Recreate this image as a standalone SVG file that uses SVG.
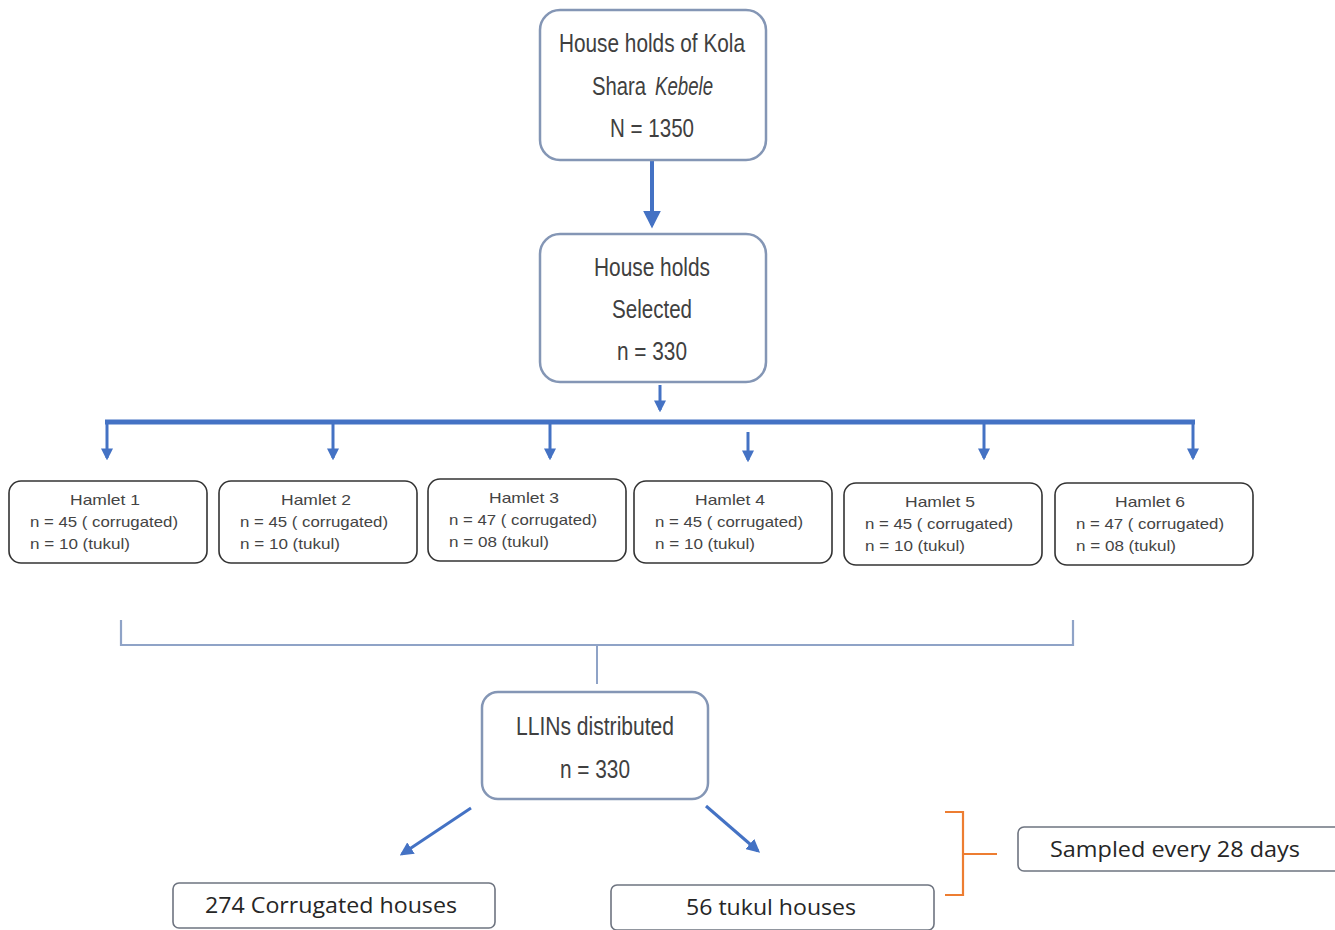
<svg xmlns="http://www.w3.org/2000/svg" width="1335" height="930" viewBox="0 0 1335 930">
<defs>
<marker id="ah" viewBox="0 0 10 10" refX="8" refY="5" markerWidth="4.5" markerHeight="4.5" orient="auto" markerUnits="strokeWidth">
<path d="M0,0 L10,5 L0,10 z" fill="#4472C4"/>
</marker>
<marker id="ahs" viewBox="0 0 10 10" refX="8" refY="5" markerWidth="4" markerHeight="4" orient="auto" markerUnits="strokeWidth">
<path d="M0,0 L10,5 L0,10 z" fill="#4472C4"/>
</marker>
</defs>
<style>
.big{fill:#fff;stroke:#8496b5;stroke-width:2.5}
.ham{fill:#fff;stroke:#333;stroke-width:1.6}
.out{fill:#fff;stroke:#6e7480;stroke-width:1.6}
.t1{font-family:"Liberation Sans",Arial,sans-serif;font-size:25px;fill:#404040;text-anchor:middle}
.th{font-family:"Liberation Sans",Arial,sans-serif;font-size:15px;fill:#444}
.tc{text-anchor:middle}
.to{font-family:"Open Sans","Liberation Sans",sans-serif;font-size:22px;fill:#262626}
.conn{stroke:#4472C4;fill:none}
</style>
<rect width="1335" height="930" fill="#fff"/>
<g id="connectors">
<line class="conn" x1="652" y1="160" x2="652" y2="225" stroke-width="4" marker-end="url(#ah)"/>
<line class="conn" x1="660" y1="385" x2="660" y2="410" stroke-width="3" marker-end="url(#ahs)"/>
<line class="conn" x1="105" y1="422" x2="1195" y2="422" stroke-width="5"/>
<line class="conn" x1="107" y1="420" x2="107" y2="458" stroke-width="3" marker-end="url(#ahs)"/>
<line class="conn" x1="333" y1="420" x2="333" y2="458" stroke-width="3" marker-end="url(#ahs)"/>
<line class="conn" x1="550" y1="420" x2="550" y2="458" stroke-width="3" marker-end="url(#ahs)"/>
<line class="conn" x1="748" y1="432" x2="748" y2="460" stroke-width="3" marker-end="url(#ahs)"/>
<line class="conn" x1="984" y1="420" x2="984" y2="458" stroke-width="3" marker-end="url(#ahs)"/>
<line class="conn" x1="1193" y1="420" x2="1193" y2="458" stroke-width="3" marker-end="url(#ahs)"/>
<path d="M121,620 V645 H1073 V620" fill="none" stroke="#8fa3c7" stroke-width="2.2"/>
<line x1="597" y1="645" x2="597" y2="684" stroke="#8fa3c7" stroke-width="2"/>
<line class="conn" x1="471" y1="808" x2="402" y2="854" stroke-width="3" marker-end="url(#ah)"/>
<line class="conn" x1="706" y1="806" x2="758" y2="851" stroke-width="3" marker-end="url(#ah)"/>
<path d="M945,812 H963 V895 H945 M963,854 H997" fill="none" stroke="#ED7D31" stroke-width="2.2"/>
</g>
<g id="n-top">
<rect class="big" x="540" y="10" width="226" height="150" rx="20"/>
<text class="t1" x="652" y="52" textLength="186" lengthAdjust="spacingAndGlyphs">House holds of Kola</text>
<text class="t1" x="619" y="95" textLength="54" lengthAdjust="spacingAndGlyphs">Shara</text>
<text class="t1" x="684" y="95" font-style="italic" textLength="58" lengthAdjust="spacingAndGlyphs">Kebele</text>
<text class="t1" x="652" y="137" textLength="84" lengthAdjust="spacingAndGlyphs">N = 1350</text>
</g>
<g id="n-selected">
<rect class="big" x="540" y="234" width="226" height="148" rx="20"/>
<text class="t1" x="652" y="276" textLength="116" lengthAdjust="spacingAndGlyphs">House holds</text>
<text class="t1" x="652" y="318" textLength="80" lengthAdjust="spacingAndGlyphs">Selected</text>
<text class="t1" x="652" y="360" textLength="70" lengthAdjust="spacingAndGlyphs">n = 330</text>
</g>
<g id="hamlet1">
<rect class="ham" x="9" y="481" width="198" height="82" rx="12"/>
<text class="th tc" x="105" y="505" textLength="70" lengthAdjust="spacingAndGlyphs">Hamlet  1</text>
<text class="th" x="30" y="527" textLength="148" lengthAdjust="spacingAndGlyphs">n = 45 ( corrugated)</text>
<text class="th" x="30" y="549" textLength="100" lengthAdjust="spacingAndGlyphs">n = 10 (tukul)</text>
</g>
<g id="hamlet2">
<rect class="ham" x="219" y="481" width="198" height="82" rx="12"/>
<text class="th tc" x="316" y="505" textLength="70" lengthAdjust="spacingAndGlyphs">Hamlet  2</text>
<text class="th" x="240" y="527" textLength="148" lengthAdjust="spacingAndGlyphs">n = 45 ( corrugated)</text>
<text class="th" x="240" y="549" textLength="100" lengthAdjust="spacingAndGlyphs">n = 10 (tukul)</text>
</g>
<g id="hamlet3">
<rect class="ham" x="428" y="479" width="198" height="82" rx="12"/>
<text class="th tc" x="524" y="503" textLength="70" lengthAdjust="spacingAndGlyphs">Hamlet  3</text>
<text class="th" x="449" y="525" textLength="148" lengthAdjust="spacingAndGlyphs">n = 47 ( corrugated)</text>
<text class="th" x="449" y="547" textLength="100" lengthAdjust="spacingAndGlyphs">n = 08 (tukul)</text>
</g>
<g id="hamlet4">
<rect class="ham" x="634" y="481" width="198" height="82" rx="12"/>
<text class="th tc" x="730" y="505" textLength="70" lengthAdjust="spacingAndGlyphs">Hamlet  4</text>
<text class="th" x="655" y="527" textLength="148" lengthAdjust="spacingAndGlyphs">n = 45 ( corrugated)</text>
<text class="th" x="655" y="549" textLength="100" lengthAdjust="spacingAndGlyphs">n = 10 (tukul)</text>
</g>
<g id="hamlet5">
<rect class="ham" x="844" y="483" width="198" height="82" rx="12"/>
<text class="th tc" x="940" y="507" textLength="70" lengthAdjust="spacingAndGlyphs">Hamlet  5</text>
<text class="th" x="865" y="529" textLength="148" lengthAdjust="spacingAndGlyphs">n = 45 ( corrugated)</text>
<text class="th" x="865" y="551" textLength="100" lengthAdjust="spacingAndGlyphs">n = 10 (tukul)</text>
</g>
<g id="hamlet6">
<rect class="ham" x="1055" y="483" width="198" height="82" rx="12"/>
<text class="th tc" x="1150" y="507" textLength="70" lengthAdjust="spacingAndGlyphs">Hamlet  6</text>
<text class="th" x="1076" y="529" textLength="148" lengthAdjust="spacingAndGlyphs">n = 47 ( corrugated)</text>
<text class="th" x="1076" y="551" textLength="100" lengthAdjust="spacingAndGlyphs">n = 08 (tukul)</text>
</g>
<g id="n-llins">
<rect class="big" x="482" y="692" width="226" height="107" rx="16"/>
<text class="t1" x="595" y="735" textLength="158" lengthAdjust="spacingAndGlyphs">LLINs distributed</text>
<text class="t1" x="595" y="778" textLength="70" lengthAdjust="spacingAndGlyphs">n = 330</text>
</g>
<g id="n-corrugated">
<rect class="out" x="173" y="883" width="322" height="45" rx="6"/>
<text class="to tc" x="331" y="913" textLength="252" lengthAdjust="spacingAndGlyphs">274 Corrugated houses</text>
</g>
<g id="n-tukul">
<rect class="out" x="611" y="885" width="323" height="45" rx="6"/>
<text class="to tc" x="771" y="915" textLength="170" lengthAdjust="spacingAndGlyphs">56 tukul houses</text>
</g>
<g id="n-sampled">
<rect class="out" x="1018" y="827" width="330" height="44" rx="6"/>
<text class="to" x="1050" y="857" textLength="250" lengthAdjust="spacingAndGlyphs">Sampled every 28 days</text>
</g>
</svg>
